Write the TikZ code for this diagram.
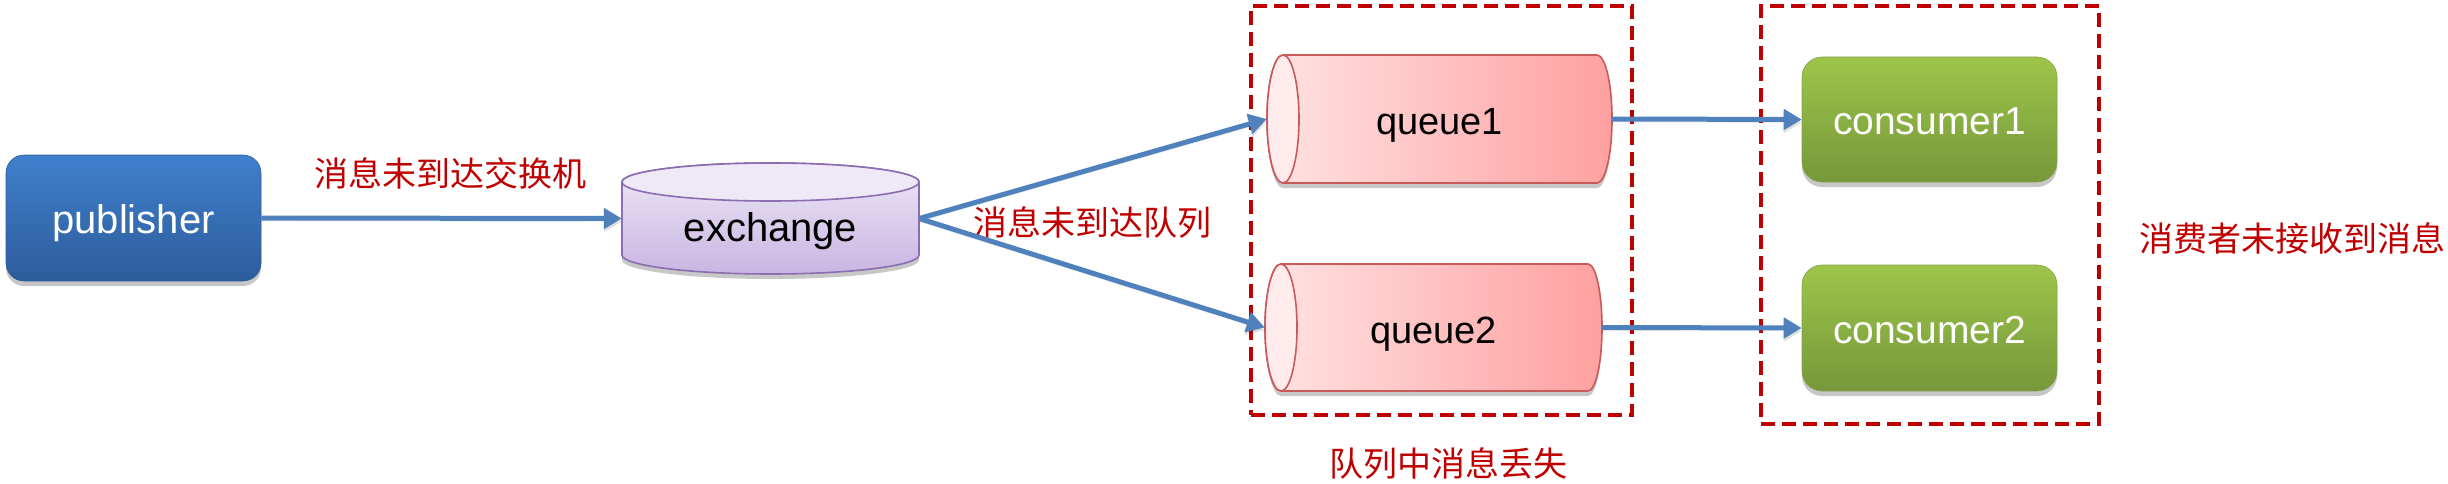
\documentclass[tikz,border=0pt]{standalone}
\usepackage{fontspec}
\setmainfont{Liberation Sans}
\newfontfamily\cjk{Noto Sans CJK SC}
\usetikzlibrary{arrows.meta,shadows,backgrounds}
\definecolor{pubTop}{HTML}{4080CC}
\definecolor{pubBot}{HTML}{2D5C9C}
\definecolor{exTop}{HTML}{EEE8F7}
\definecolor{exBot}{HTML}{C9B5E2}
\definecolor{exBorder}{HTML}{8B6DB1}
\definecolor{qLeft}{HTML}{FFE3E3}
\definecolor{qRight}{HTML}{FFA0A0}
\definecolor{qBorder}{HTML}{C85A5A}
\definecolor{qEnd}{HTML}{FFEBEB}
\definecolor{conTop}{HTML}{9DC54A}
\definecolor{conBot}{HTML}{76983A}
\definecolor{labelred}{HTML}{C00000}
\definecolor{arrowblue}{HTML}{4F81BD}
\begin{document}
\begin{tikzpicture}[x=1pt,y=-1pt,
  softshadow/.style={drop shadow={shadow xshift=0pt,shadow yshift=-5pt,opacity=0.22,fill=black}},
  boxtext/.style={inner sep=0pt,text height=40pt,text depth=9pt},
  pubbox/.style={boxtext,rounded corners=18pt,top color=pubTop,bottom color=pubBot,
    draw=pubBot,line width=0.6pt,text=white,softshadow,
    font=\fontsize{40}{48}\selectfont,minimum width=255pt,minimum height=126pt},
  conbox/.style={boxtext,rounded corners=20pt,top color=conTop,bottom color=conBot,
    draw=conBot!90!white,line width=0.6pt,text=white,softshadow,
    font=\fontsize{39}{46}\selectfont,minimum width=255pt,minimum height=125pt},
  qtext/.style={boxtext,font=\fontsize{38}{46}\selectfont,text=black},
  extext/.style={inner sep=0pt,text height=55pt,text depth=9pt,
    font=\fontsize{40}{48}\selectfont,text=black,minimum width=297pt,minimum height=111pt},
  zh/.style={font=\cjk\fontsize{34}{40}\selectfont,text=labelred,inner sep=0pt},
  groupbox/.style={draw=labelred,line width=4pt,dash pattern=on 14pt off 7pt,inner sep=0pt},
  flow/.style={draw=arrowblue,line width=5pt,-{Triangle[length=18pt,width=20pt]},
    preaction={draw=black,opacity=0.12,transform canvas={yshift=-3pt}}},
  qbody/.style={left color=qLeft,right color=qRight,draw=qBorder,line width=1.6pt,softshadow},
  qcap/.style={fill=qEnd,draw=qBorder,line width=1.6pt}
]
\useasboundingbox (0,0) rectangle (2448,484);

% nodes
\node[pubbox] (pub) at (133.5,218) {publisher};
\node[extext] (ex) at (770.5,218.5) {exchange};
\node[qtext,minimum width=345pt,minimum height=128pt] (q1) at (1439.5,119) {queue1};
\node[qtext,minimum width=337pt,minimum height=127pt] (q2) at (1433.5,327.5) {queue2};
\node[conbox] (c1) at (1929.5,119.5) {consumer1};
\node[conbox,minimum height=126pt] (c2) at (1929.5,328) {consumer2};

\node[groupbox,minimum width=381pt,minimum height=409pt] (g1) at (1441.5,210.5) {};
\node[groupbox,minimum width=338pt,minimum height=418pt] (g2) at (1930,215) {};

\node[zh] (l1) at (450,173) {消息未到达交换机};
\node[zh] (l2) at (1092,222) {消息未到达队列};
\node[zh] (l3) at (1448,463) {队列中消息丢失};
\node[zh] (l4) at (2292,238) {消费者未接收到消息};

% shapes behind text
\begin{scope}[on background layer]
  % exchange cylinder
  \shade[top color=exTop,bottom color=exBot,draw=exBorder,line width=1.6pt,softshadow]
    (622,182) -- (622,255) arc[start angle=180,end angle=360,x radius=148.5pt,y radius=19pt]
    -- (919,182) arc[start angle=0,end angle=180,x radius=148.5pt,y radius=19pt] -- cycle;
  \filldraw[fill=exTop,draw=exBorder,line width=1.6pt] (770.5,182) ellipse[x radius=148.5pt,y radius=19pt];
  % queue1
  \shade[qbody] (1283,55) -- (1597,55) arc[start angle=90,end angle=-90,x radius=15pt,y radius=64pt]
    -- (1283,183) arc[start angle=270,end angle=90,x radius=16pt,y radius=64pt] -- cycle;
  \filldraw[qcap] (1283,119) ellipse[x radius=16pt,y radius=64pt];
  % queue2
  \shade[qbody] (1281,264) -- (1588,264) arc[start angle=90,end angle=-90,x radius=14pt,y radius=63.5pt]
    -- (1281,391) arc[start angle=270,end angle=90,x radius=16pt,y radius=63.5pt] -- cycle;
  \filldraw[qcap] (1281,327.5) ellipse[x radius=16pt,y radius=63.5pt];
\end{scope}

% connectors
\draw[flow] (pub.east) -- (ex.west);
\draw[flow] (ex.east) -- (q1.west);
\draw[flow] (ex.east) -- (q2.west);
\draw[flow] (q1.east) -- (c1.west);
\draw[flow] (q2.east) -- (c2.west);
\end{tikzpicture}
\end{document}
